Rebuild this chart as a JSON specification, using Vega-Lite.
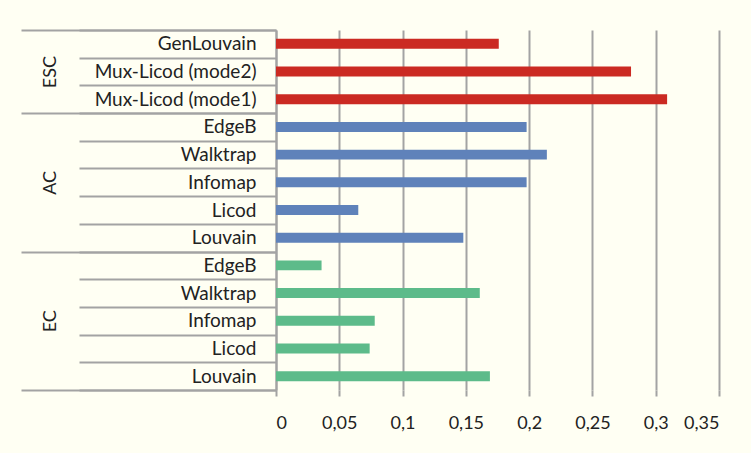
{
  "$schema": "https://vega.github.io/schema/vega-lite/v6.json",
  "width": 443,
  "height": 360,
  "autosize": {"type": "none"},
  "padding": {"left": 276, "top": 30, "right": 32, "bottom": 63},
  "background": "#FFFFF3",
  "config": {
    "view": {"stroke": null},
    "axis": {"labelFont": "Lato", "labelColor": "#222222", "titleFont": "Lato"}
  },
  "resolve": {"scale": {"y": "independent"}, "axis": {"y": "independent"}},
  "layer": [
    {
      "data": {
        "values": [
          {"key": "ESC|GenLouvain", "group": "ESC", "method": "GenLouvain", "value": 0.176},
          {"key": "ESC|Mux-Licod (mode2)", "group": "ESC", "method": "Mux-Licod (mode2)", "value": 0.2805},
          {"key": "ESC|Mux-Licod (mode1)", "group": "ESC", "method": "Mux-Licod (mode1)", "value": 0.309},
          {"key": "AC|EdgeB", "group": "AC", "method": "EdgeB", "value": 0.198},
          {"key": "AC|Walktrap", "group": "AC", "method": "Walktrap", "value": 0.214},
          {"key": "AC|Infomap", "group": "AC", "method": "Infomap", "value": 0.198},
          {"key": "AC|Licod", "group": "AC", "method": "Licod", "value": 0.065},
          {"key": "AC|Louvain", "group": "AC", "method": "Louvain", "value": 0.148},
          {"key": "EC|EdgeB", "group": "EC", "method": "EdgeB", "value": 0.036},
          {"key": "EC|Walktrap", "group": "EC", "method": "Walktrap", "value": 0.161},
          {"key": "EC|Infomap", "group": "EC", "method": "Infomap", "value": 0.078},
          {"key": "EC|Licod", "group": "EC", "method": "Licod", "value": 0.074},
          {"key": "EC|Louvain", "group": "EC", "method": "Louvain", "value": 0.169}
        ]
      },
      "mark": {"type": "bar", "height": {"band": 0.36}},
      "encoding": {
        "y": {
          "field": "key",
          "type": "nominal",
          "sort": null,
          "scale": {"paddingInner": 0, "paddingOuter": 0},
          "axis": {
            "title": null,
            "labelExpr": "split(datum.value, '|')[1]",
            "tickBand": "extent",
            "tickSize": 197,
            "tickColor": "#A3A3A3",
            "tickWidth": 2,
            "labelPadding": -177,
            "labelFontSize": 19,
            "labelAlign": "right",
            "domainColor": "#A3A3A3",
            "domainWidth": 2
          }
        },
        "x": {
          "field": "value",
          "type": "quantitative",
          "scale": {"domain": [0, 0.35], "nice": false},
          "axis": {
            "title": null,
            "values": [0, 0.05, 0.1, 0.15, 0.2, 0.25, 0.3, 0.35],
            "labelExpr": "replace(format(datum.value, ''), '.', ',')",
            "grid": true,
            "gridColor": "#A3A3A3",
            "gridWidth": 2,
            "domain": false,
            "tickSize": 6,
            "tickColor": "#A3A3A3",
            "tickWidth": 2,
            "labelPadding": 18,
            "labelFontSize": 18
          }
        },
        "color": {
          "field": "group",
          "type": "nominal",
          "scale": {"domain": ["ESC", "AC", "EC"], "range": ["#CB2A22", "#5F82BA", "#5DBB8A"]},
          "legend": null
        }
      }
    },
    {
      "data": {"values": [{"row": 0}, {"row": 13}]},
      "mark": {"type": "point", "opacity": 0},
      "encoding": {
        "y": {
          "field": "row",
          "type": "quantitative",
          "scale": {"domain": [0, 13], "reverse": true, "nice": false, "zero": false},
          "axis": {
            "orient": "left",
            "title": null,
            "grid": false,
            "domain": false,
            "values": [0, 1.5, 3, 5.5, 8, 10.5, 13],
            "tickSize": 255,
            "tickColor": "#A3A3A3",
            "tickWidth": 2,
            "tickOpacity": {"condition": {"test": "datum.value % 1 != 0", "value": 0}, "value": 1},
            "labelExpr": "datum.value == 1.5 ? 'ESC' : datum.value == 5.5 ? 'AC' : datum.value == 10.5 ? 'EC' : ''",
            "labelAngle": -90,
            "labelAlign": "center",
            "labelBaseline": "middle",
            "labelPadding": -29,
            "labelFontSize": 18
          }
        }
      }
    }
  ]
}
